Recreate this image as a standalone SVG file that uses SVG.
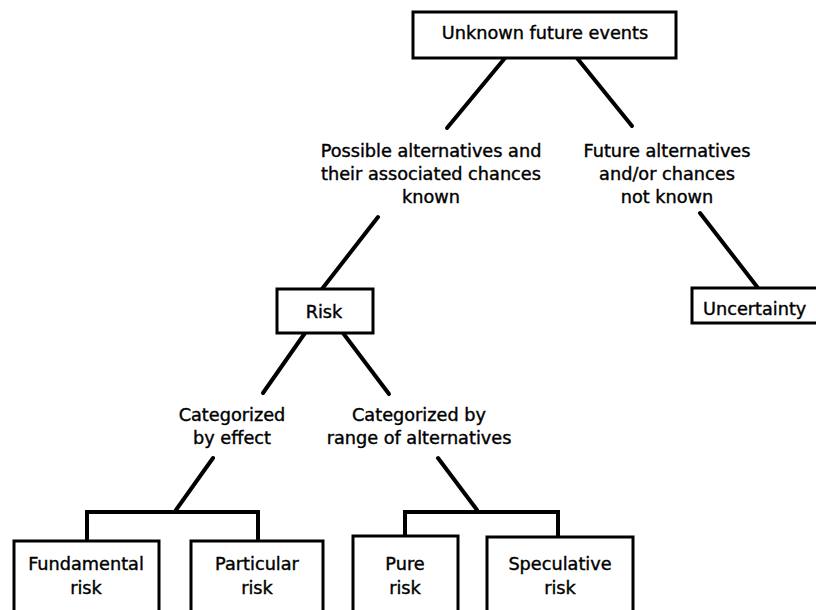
<svg xmlns="http://www.w3.org/2000/svg" width="816" height="610" viewBox="0 0 816 610">
<style>
.box{fill:#fff;stroke:#000;stroke-width:3}
.ln{stroke:#000;stroke-width:4;fill:none;stroke-linecap:round;stroke-linejoin:miter}
text{font-family:"DejaVu Sans","Liberation Sans",sans-serif;font-size:17.7px;fill:#000;stroke:#000;stroke-width:0.4;text-anchor:middle}
</style>
<rect width="816" height="610" fill="#fff"/>
<g id="connectors">
<line class="ln" x1="505" y1="58" x2="447" y2="128"/>
<line class="ln" x1="577" y1="58" x2="632" y2="126"/>
<line class="ln" x1="378" y1="217" x2="322" y2="289"/>
<line class="ln" x1="700" y1="213" x2="758" y2="288"/>
<line class="ln" x1="305" y1="333" x2="263" y2="393"/>
<line class="ln" x1="343" y1="333" x2="389" y2="394"/>
<line class="ln" x1="213" y1="458" x2="176" y2="510"/>
<polyline class="ln" points="87,539 87,512 258,512 258,539"/>
<line class="ln" x1="438" y1="458" x2="477" y2="510"/>
<polyline class="ln" points="405,537 405,512 558,512 558,537"/>
</g>
<g id="unknown">
<rect class="box" x="413" y="12" width="263" height="46"/>
<text x="545" y="39">Unknown future events</text>
</g>
<g id="known-label">
<text x="431" y="157">Possible alternatives and</text>
<text x="431" y="180">their associated chances</text>
<text x="431" y="203">known</text>
</g>
<g id="notknown-label">
<text x="667" y="157">Future alternatives</text>
<text x="667" y="180">and/or chances</text>
<text x="667" y="203">not known</text>
</g>
<g id="risk">
<rect class="box" x="277" y="289" width="96" height="44"/>
<text x="324" y="318">Risk</text>
</g>
<g id="uncertainty">
<rect class="box" x="692" y="288" width="140" height="35"/>
<text x="703" y="315" style="text-anchor:start">Uncertainty</text>
</g>
<g id="effect-label">
<text x="232" y="421">Categorized</text>
<text x="232" y="444">by effect</text>
</g>
<g id="range-label">
<text x="419" y="421">Categorized by</text>
<text x="419" y="444">range of alternatives</text>
</g>
<g id="fundamental">
<rect class="box" x="14" y="541" width="145" height="80"/>
<text x="86" y="570">Fundamental</text>
<text x="86" y="594">risk</text>
</g>
<g id="particular">
<rect class="box" x="191" y="541" width="132" height="80"/>
<text x="257" y="570">Particular</text>
<text x="257" y="594">risk</text>
</g>
<g id="pure">
<rect class="box" x="353" y="536" width="105" height="85"/>
<text x="405" y="570">Pure</text>
<text x="405" y="594">risk</text>
</g>
<g id="speculative">
<rect class="box" x="487" y="537" width="146" height="84"/>
<text x="560" y="570">Speculative</text>
<text x="560" y="594">risk</text>
</g>
</svg>
